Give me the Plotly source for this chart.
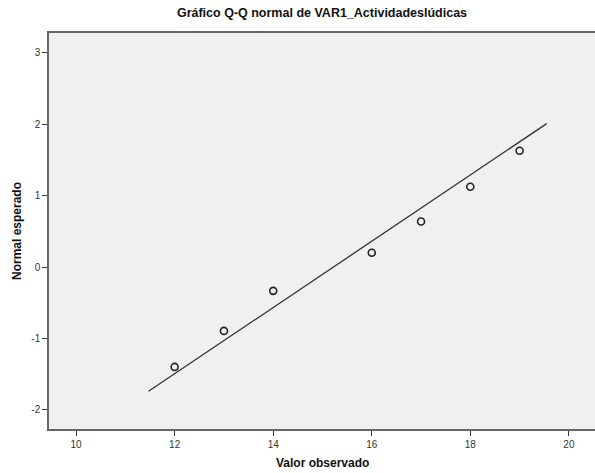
import plotly.graph_objects as go

observed = [12, 13, 14, 16, 17, 18, 19]
expected_normal = [-1.40, -0.895, -0.334, 0.20, 0.638, 1.125, 1.63]

# Reference normal line endpoints
line_x = [11.47, 19.55]
line_y = [-1.742, 2.01]

x_ticks = [10, 12, 14, 16, 18, 20]
y_ticks = [-2, -1, 0, 1, 2, 3]

title_text = "Gráfico Q-Q normal de VAR1_Actividadeslúdicas"
x_title = "Valor observado"
y_title = "Normal esperado"

FONT = "Liberation Sans, Arial, sans-serif"
W, H = 595, 473

fig = go.Figure()
fig.add_trace(go.Scatter(
    x=line_x, y=line_y, mode="lines",
    line=dict(color="#333333", width=1.3),
    hoverinfo="skip", showlegend=False,
))
fig.add_trace(go.Scatter(
    x=observed, y=expected_normal, mode="markers",
    marker=dict(symbol="circle-open", size=7, color="#222222",
                line=dict(width=1.6, color="#222222")),
    showlegend=False,
))

fig.update_layout(
    width=W, height=H,
    margin=dict(l=49, r=0, t=33, b=44, autoexpand=False),
    paper_bgcolor="white",
    plot_bgcolor="#f0f0f0",
    font=dict(family=FONT, color="#222222"),
    title=dict(
        text="<b>" + title_text + "</b>",
        x=0.5, xref="paper", xanchor="center",
        y=1 - 13 / H, yref="container", yanchor="middle",
        font=dict(size=12.5, family=FONT, color="#111111"),
    ),
    xaxis=dict(
        range=[9.45, 20.53], automargin=False,
        tickvals=x_ticks,
        ticktext=[str(v) for v in x_ticks],
        showgrid=False, zeroline=False,
        showline=True, linecolor="#666666", linewidth=1.5, mirror=True,
        ticks="outside", ticklen=5, tickcolor="#333333", tickwidth=1,
        tickfont=dict(size=10, color="#333333"),
    ),
    yaxis=dict(
        range=[-2.27, 3.28], automargin=False,
        tickvals=y_ticks,
        ticktext=[str(v) for v in y_ticks],
        showgrid=False, zeroline=False,
        showline=True, linecolor="#666666", linewidth=1.5,
        ticks="outside", ticklen=5, tickcolor="#333333", tickwidth=1,
        tickfont=dict(size=10, color="#333333"),
    ),
    annotations=[
        dict(text="<b>" + x_title + "</b>", xref="paper", yref="paper",
             x=0.5, y=-(463 - 429) / (429 - 33), xanchor="center", yanchor="middle",
             showarrow=False, font=dict(size=12, family=FONT, color="#111111")),
        dict(text="<b>" + y_title + "</b>", xref="paper", yref="paper",
             x=-(49 - 17) / (595 - 49), y=0.5, xanchor="center", yanchor="middle",
             textangle=-90,
             showarrow=False, font=dict(size=12, family=FONT, color="#111111")),
    ],
)

fig.write_html("out.html", config={"displayModeBar": False},
               post_script="document.body.style.margin='0';")
